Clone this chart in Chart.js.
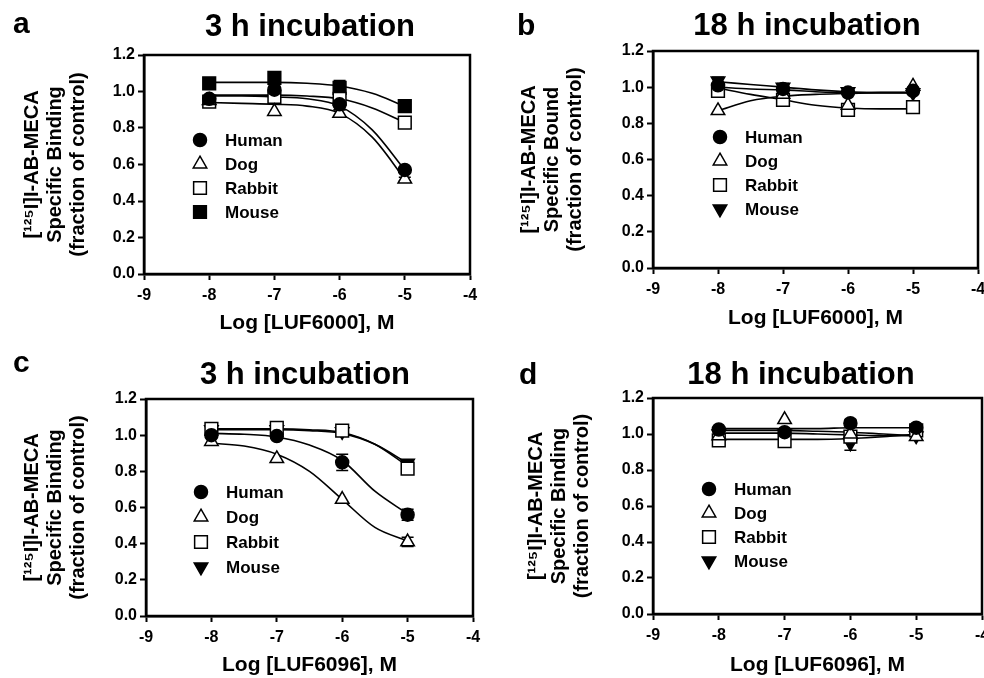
<!DOCTYPE html>
<html>
<head>
<meta charset="utf-8">
<script src="https://cdn.jsdelivr.net/npm/chart.js@4.4.1/dist/chart.umd.min.js"></script>
<style>
  html, body { margin: 0; padding: 0; background: #fff; }
  #wrap { position: relative; width: 984px; height: 678px; overflow: hidden; }
  canvas { position: absolute; }
</style>
</head>
<body>
<div id="wrap">
  <canvas id="panelA" width="492" height="339" style="left:0;top:0"></canvas>
  <canvas id="panelB" width="520" height="339" style="left:492px;top:0"></canvas>
  <canvas id="panelC" width="492" height="339" style="left:0;top:339px"></canvas>
  <canvas id="panelD" width="520" height="339" style="left:492px;top:339px"></canvas>
</div>
<script>
// --- data ---
const conc = [-8, -7, -6, -5];                      // log [ligand], M
const fitX = [-8, -7.5, -7, -6.5, -6, -5.5, -5];    // where the fitted curves were read
const species = ['Human', 'Dog', 'Rabbit', 'Mouse'];
const xTicks = [-9, -8, -7, -6, -5, -4];
const yTicks = [0, 0.2, 0.4, 0.6, 0.8, 1.0, 1.2];

// a: LUF6000, 3 h   (rows: Human, Dog, Rabbit, Mouse)
const aPoints = [[0.96, 1.01, 0.93, 0.57], [0.95, 0.89, 0.88, 0.52], [0.945, 0.97, 0.96, 0.83], [1.045, 1.075, 1.02, 0.92]];
const aErr    = [[0, 0.02, 0.03, 0.01], [0, 0, 0.02, 0.01], [0, 0, 0.02, 0], [0, 0.01, 0.04, 0]];
const aFit    = [[0.975, 0.975, 0.97, 0.96, 0.92, 0.79, 0.57],
                 [0.94, 0.935, 0.93, 0.92, 0.88, 0.75, 0.52],
                 [0.98, 0.98, 0.98, 0.975, 0.96, 0.91, 0.83],
                 [1.05, 1.05, 1.05, 1.045, 1.03, 0.99, 0.92]];

// b: LUF6000, 18 h
const bPoints = [[1.01, 0.99, 0.97, 0.98], [0.87, 0.96, 0.90, 1.005], [0.98, 0.93, 0.875, 0.89], [1.035, 1.0, 0.975, 0.97]];
const bErr    = [[0, 0, 0, 0], [0, 0, 0, 0], [0, 0, 0, 0], [0.02, 0.02, 0.01, 0]];
const bFit    = [[1.0, 0.99, 0.985, 0.975, 0.97, 0.97, 0.97],
                 [0.87, 0.925, 0.95, 0.96, 0.965, 0.97, 0.97],
                 [0.995, 0.96, 0.93, 0.90, 0.885, 0.88, 0.88],
                 [1.03, 1.015, 1.0, 0.985, 0.975, 0.97, 0.97]];

// c: LUF6096, 3 h
const cPoints = [[1.0, 0.995, 0.85, 0.56], [0.965, 0.87, 0.645, 0.41], [1.035, 1.04, 1.025, 0.815], [1.03, 1.03, 1.02, 0.845]];
const cErr    = [[0, 0, 0.045, 0.03], [0, 0, 0, 0.025], [0, 0, 0.015, 0], [0, 0, 0, 0.015]];
const cFit    = [[1.01, 1.005, 0.99, 0.945, 0.86, 0.69, 0.565],
                 [0.955, 0.94, 0.895, 0.80, 0.645, 0.49, 0.415],
                 [1.035, 1.035, 1.035, 1.03, 1.015, 0.95, 0.83],
                 [1.03, 1.03, 1.03, 1.025, 1.01, 0.95, 0.845]];

// d: LUF6096, 18 h
const dPoints = [[1.025, 1.01, 1.06, 1.035], [0.99, 1.08, 1.0, 0.985], [0.965, 0.96, 0.985, 1.02], [1.0, 1.0, 0.95, 0.99]];
const dErr    = [[0, 0, 0.02, 0], [0, 0, 0, 0], [0, 0, 0, 0], [0, 0, 0.04, 0]];
const dFit    = [[1.03, 1.03, 1.03, 1.03, 1.035, 1.035, 1.035],
                 [1.02, 1.02, 1.02, 1.015, 1.01, 1.0, 0.99],
                 [0.97, 0.97, 0.97, 0.97, 0.975, 0.985, 1.0],
                 [1.005, 1.005, 1.005, 1.0, 0.995, 0.99, 0.99]];

// --- marker styles ---
const circleFilled  = { style: 'circle',   r: 6.5, fill: '#000', rot: 0 };
const triOpen       = { style: 'triangle', r: 7.8, fill: '#fff', rot: 0 };
const squareOpen    = { style: 'rect',     r: 9,   fill: '#fff', rot: 0 };
const squareFilled  = { style: 'rect',     r: 9,   fill: '#000', rot: 0 };
const triDownFilled = { style: 'triangle', r: 7.8, fill: '#000', rot: 180 };

Chart.defaults.font.family = '"Liberation Sans", Arial, sans-serif';
Chart.defaults.font.weight = 'bold';
Chart.defaults.color = '#000';

// vertical error bars, drawn under the markers
const errorBars = {
  id: 'errorBars',
  beforeDatasetsDraw(chart) {
    const ctx = chart.ctx, xs = chart.scales.x, ys = chart.scales.y;
    chart.data.datasets.forEach(ds => {
      if (!ds.errors) return;
      ds.data.forEach((p, i) => {
        const e = ds.errors[i];
        if (!e) return;
        const px = xs.getPixelForValue(p.x);
        const t = ys.getPixelForValue(p.y + e), b = ys.getPixelForValue(p.y - e);
        ctx.save();
        ctx.strokeStyle = '#000';
        ctx.lineWidth = 1.5;
        ctx.beginPath();
        ctx.moveTo(px, t); ctx.lineTo(px, b);
        ctx.moveTo(px - 6, t); ctx.lineTo(px + 6, t);
        ctx.moveTo(px - 6, b); ctx.lineTo(px + 6, b);
        ctx.stroke();
        ctx.restore();
      });
    });
  }
};

// box round the plot, legend inside it, panel letter and heading
const panelDecor = {
  id: 'panelDecor',
  afterDraw(chart, args, o) {
    const ctx = chart.ctx, a = chart.chartArea;
    ctx.save();
    ctx.strokeStyle = '#000';
    ctx.lineWidth = 2.5;
    ctx.strokeRect(a.left, a.top, a.right - a.left, a.bottom - a.top);

    // legend
    ctx.font = 'bold 17px "Liberation Sans", Arial, sans-serif';
    ctx.textBaseline = 'middle';
    ctx.textAlign = 'left';
    for (let i = 0; i < species.length; i++) {
      const ds = chart.data.datasets[i];
      const x = a.left + o.legendX, y = a.top + o.legendY + i * o.legendGap;
      ctx.fillStyle = ds.pointBackgroundColor;
      ctx.strokeStyle = '#000';
      ctx.lineWidth = 1.5;
      Chart.helpers.drawPoint(ctx, { pointStyle: ds.pointStyle, radius: ds.pointRadius, rotation: ds.pointRotation, borderWidth: 1.5 }, x, y);
      ctx.fillStyle = '#000';
      ctx.fillText(ds.label, x + 25, y + 1);
    }

    // letter + heading
    ctx.textBaseline = 'alphabetic';
    ctx.font = 'bold 30px "Liberation Sans", Arial, sans-serif';
    ctx.fillText(o.letter, o.letterX, o.letterY);
    ctx.textAlign = 'center';
    ctx.font = 'bold 31px "Liberation Sans", Arial, sans-serif';
    ctx.fillText(o.title, o.titleX, o.titleY);
    ctx.restore();
  }
};

function makePanel(id, points, errs, fits, marks, L) {
  const canvas = document.getElementById(id);
  const datasets = [];
  species.forEach((name, i) => {
    datasets.push({
      label: name,
      data: conc.map((x, j) => ({ x: x, y: points[i][j] })),
      errors: errs[i],
      showLine: false,
      pointStyle: marks[i].style,
      pointRadius: marks[i].r,
      pointRotation: marks[i].rot,
      pointBackgroundColor: marks[i].fill,
      pointBorderColor: '#000',
      pointBorderWidth: 1.5
    });
  });
  species.forEach((name, i) => {
    datasets.push({
      label: name + ' fit',
      data: fitX.map((x, j) => ({ x: x, y: fits[i][j] })),
      showLine: true,
      pointRadius: 0,
      borderColor: '#000',
      borderWidth: 1.6,
      cubicInterpolationMode: 'monotone',
      fill: false
    });
  });

  const tickGrid = { display: true, drawOnChartArea: false, drawTicks: true, tickLength: 6, tickWidth: 2, tickColor: '#000' };

  return new Chart(canvas, {
    type: 'scatter',
    data: { datasets },
    options: {
      responsive: false,
      animation: false,
      events: [],
      layout: { padding: { left: 0, top: L.top, right: canvas.width - L.right, bottom: 0 } },
      plugins: {
        legend: { display: false },
        tooltip: { enabled: false },
        panelDecor: L
      },
      scales: {
        x: {
          type: 'linear', min: -9, max: -4,
          afterBuildTicks: s => { s.ticks = xTicks.map(v => ({ value: v })); },
          ticks: { font: { size: 16, weight: 'bold' }, color: '#000', padding: 6, maxRotation: 0, callback: v => String(v) },
          grid: tickGrid,
          border: { display: true, color: '#000', width: 2.5 },
          title: { display: true, text: L.xLabel, font: { size: 21, weight: 'bold' }, color: '#000', padding: { top: 0, bottom: L.xTitlePad } },
          afterFit: s => { s.height = 339 - L.bottom; }
        },
        y: {
          type: 'linear', min: 0, max: 1.2,
          afterBuildTicks: s => { s.ticks = yTicks.map(v => ({ value: v })); },
          ticks: { font: { size: 16, weight: 'bold' }, color: '#000', padding: 3, callback: v => v.toFixed(1) },
          grid: tickGrid,
          border: { display: true, color: '#000', width: 2.5 },
          title: {
            display: true,
            text: ['[\u00B9\u00B2\u2075I]I-AB-MECA', L.yLabel2, '(fraction of control)'],
            font: { size: 20, weight: 'bold', lineHeight: 1.15 }, color: '#000',
            padding: { top: L.yTitlePad, bottom: 0 }
          },
          afterFit: s => { s.width = L.left; }
        }
      }
    },
    plugins: [errorBars, panelDecor]
  });
}

makePanel('panelA', aPoints, aErr, aFit, [circleFilled, triOpen, squareOpen, squareFilled], {
  left: 144, right: 470, top: 55, bottom: 274, yTitlePad: 20.5, xTitlePad: 3,
  legendX: 56, legendY: 85, legendGap: 24,
  letter: 'a', letterX: 13, letterY: 33, title: '3 h incubation', titleX: 310, titleY: 36,
  xLabel: 'Log [LUF6000], M', yLabel2: 'Specific Binding'
});
makePanel('panelB', bPoints, bErr, bFit, [circleFilled, triOpen, squareOpen, triDownFilled], {
  left: 161, right: 486, top: 51, bottom: 268, yTitlePad: 25.5, xTitlePad: 8,
  legendX: 67, legendY: 86, legendGap: 24,
  letter: 'b', letterX: 25, letterY: 35, title: '18 h incubation', titleX: 315, titleY: 35,
  xLabel: 'Log [LUF6000], M', yLabel2: 'Specific Bound'
});
makePanel('panelC', cPoints, cErr, cFit, [circleFilled, triOpen, squareOpen, triDownFilled], {
  left: 146, right: 473, top: 60, bottom: 277, yTitlePad: 20.5, xTitlePad: 0,
  legendX: 55, legendY: 93, legendGap: 25,
  letter: 'c', letterX: 13, letterY: 33, title: '3 h incubation', titleX: 305, titleY: 45,
  xLabel: 'Log [LUF6096], M', yLabel2: 'Specific Binding'
});
makePanel('panelD', dPoints, dErr, dFit, [circleFilled, triOpen, squareOpen, triDownFilled], {
  left: 161, right: 490, top: 59, bottom: 275, yTitlePad: 32.5, xTitlePad: 0,
  legendX: 56, legendY: 91, legendGap: 24,
  letter: 'd', letterX: 27, letterY: 45, title: '18 h incubation', titleX: 309, titleY: 45,
  xLabel: 'Log [LUF6096], M', yLabel2: 'Specific Binding'
});
</script>
</body>
</html>
